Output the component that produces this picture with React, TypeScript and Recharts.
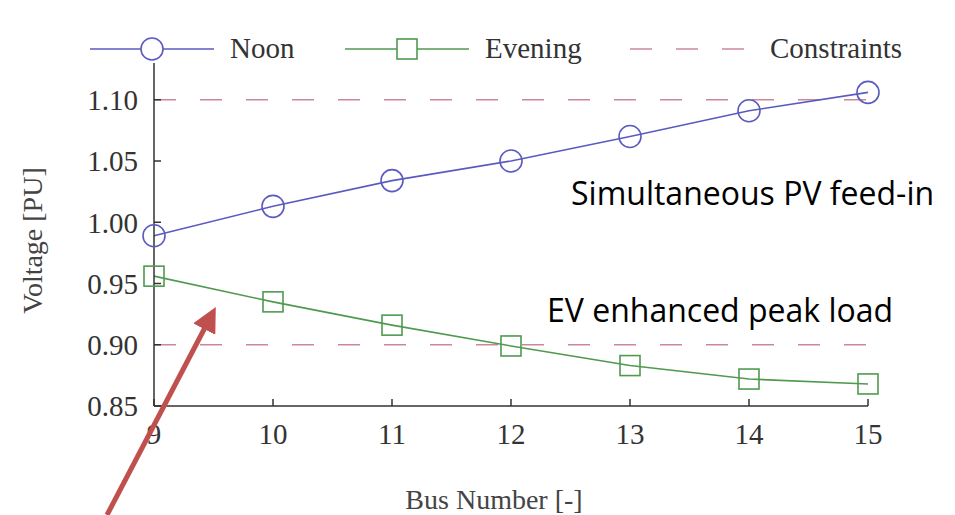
import { Line, LineChart, ReferenceLine, XAxis, YAxis } from "recharts";

const buses = [9, 10, 11, 12, 13, 14, 15];
const noon = [0.989, 1.013, 1.034, 1.05, 1.07, 1.091, 1.106];
const evening = [0.956, 0.935, 0.916, 0.899, 0.883, 0.872, 0.868];
const constraints = [1.1, 0.9];
const yTicks = [0.85, 0.9, 0.95, 1.0, 1.05, 1.1];

const NOON = "#5a5ac0";
const EVENING = "#4f9a4f";
const LIMIT = "#cc8899";
const AXIS = "#333";
const SERIF = "'Liberation Serif', 'Times New Roman', serif";

const data = buses.map((bus, i) => ({ bus, noon: noon[i], evening: evening[i] }));

const tickStyle = { fontSize: 29, fontFamily: SERIF, fill: "#333" };

function SquareDot(props: any) {
  const { cx, cy, index } = props;
  return (
    <rect key={`sq-${index}`} x={cx - 10} y={cy - 10} width={20} height={20} fill="none" stroke={EVENING} strokeWidth={1.6} />
  );
}

function LegendIcon({ kind }: { kind: "circle" | "square" | "dash" }) {
  return (
    <svg width={124} height={30} style={{ display: "block" }}>
      {kind === "dash" ? (
        <line x1={0} y1={15} x2={124} y2={15} stroke={LIMIT} strokeWidth={1.6} strokeDasharray="22 24" />
      ) : (
        <line x1={0} y1={15} x2={124} y2={15} stroke={kind === "circle" ? NOON : EVENING} strokeWidth={1.6} />
      )}
      {kind === "circle" && <circle cx={62} cy={15} r={11} fill="#fff" stroke={NOON} strokeWidth={1.6} />}
      {kind === "square" && <rect x={52} y={5} width={20} height={20} fill="#fff" stroke={EVENING} strokeWidth={1.6} />}
    </svg>
  );
}

const legendItems: { name: string; kind: "circle" | "square" | "dash"; left: number }[] = [
  { name: "Noon", kind: "circle", left: 90 },
  { name: "Evening", kind: "square", left: 345 },
  { name: "Constraints", kind: "dash", left: 630 },
];

export default function App() {
  return (
    <div style={{ position: "absolute", left: 0, top: 0, width: 955, height: 515, background: "#fff" }}>
      <LineChart width={955} height={515} data={data} margin={{ top: 63, right: 87, bottom: 0, left: 0 }}>
        <XAxis
          dataKey="bus"
          type="number"
          domain={[9, 15]}
          ticks={buses}
          height={109}
          tick={tickStyle}
          tickSize={-7}
          tickMargin={24}
          stroke={AXIS}
          strokeWidth={1.5}
          label={{ value: "Bus Number [-]", position: "insideBottom", offset: 6, dx: -17, style: { ...tickStyle, fontSize: 28, fill: "#444" } }}
        />
        <YAxis
          type="number"
          domain={[0.85, 1.13]}
          ticks={yTicks}
          width={154}
          tick={tickStyle}
          tickFormatter={(v: number) => v.toFixed(2)}
          tickSize={-7}
          tickMargin={23}
          stroke={AXIS}
          strokeWidth={1.5}
          label={{ value: "Voltage [PU]", angle: -90, position: "center", dx: -45, dy: 6, style: { ...tickStyle, fontSize: 28, fill: "#444" } }}
        />
        {constraints.map((c) => (
          <ReferenceLine key={c} y={c} stroke={LIMIT} strokeWidth={1.6} strokeDasharray="22 24" />
        ))}
        <Line
          dataKey="noon"
          stroke={NOON}
          strokeWidth={1.6}
          dot={{ r: 11, fill: "none", stroke: NOON, strokeWidth: 1.6 }}
          isAnimationActive={false}
        />
        <Line dataKey="evening" stroke={EVENING} strokeWidth={1.6} dot={SquareDot} isAnimationActive={false} />
      </LineChart>

      {legendItems.map((item) => (
        <div
          key={item.name}
          style={{ position: "absolute", left: item.left, top: 32, display: "flex", alignItems: "center", fontFamily: SERIF, fontSize: 29, color: "#333" }}
        >
          <LegendIcon kind={item.kind} />
          <span style={{ marginLeft: 16 }}>{item.name}</span>
        </div>
      ))}

      <div style={{ position: "absolute", left: 571, top: 172, fontFamily: "'Open Sans', sans-serif", fontSize: 32, lineHeight: "42px", color: "#000" }}>
        Simultaneous PV feed-in
      </div>
      <div style={{ position: "absolute", left: 547, top: 289, fontFamily: "'Open Sans', sans-serif", fontSize: 32, lineHeight: "42px", color: "#000" }}>
        EV enhanced peak load
      </div>

      <svg width={955} height={515} style={{ position: "absolute", left: 0, top: 0, pointerEvents: "none" }}>
        <defs>
          <marker id="arrowHead" markerWidth={5} markerHeight={5} refX={2.5} refY={2.5} orient="auto" markerUnits="strokeWidth">
            <path d="M0,0 L5,2.5 L0,5 Z" fill="#c0504d" />
          </marker>
        </defs>
        <line x1={107} y1={515} x2={210} y2={318} stroke="#c0504d" strokeWidth={5} markerEnd="url(#arrowHead)" />
      </svg>
    </div>
  );
}
